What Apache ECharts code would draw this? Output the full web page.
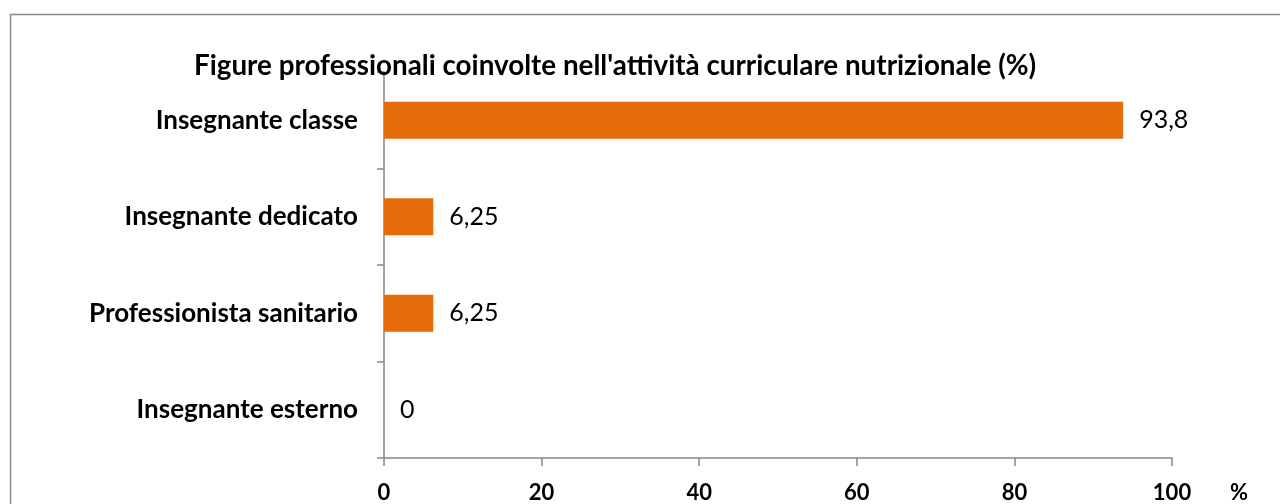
<!DOCTYPE html>
<html><head><meta charset="utf-8">
<script src="https://cdn.jsdelivr.net/npm/echarts@6/dist/echarts.min.js"></script>
<style>html,body{margin:0;padding:0;background:#fff}#c{width:1280px;height:504px}</style>
</head><body><div id="c"></div>
<script>
const titleText = "Figure professionali coinvolte nell'attività curriculare nutrizionale (%)";
const categories = ["Insegnante classe", "Insegnante dedicato", "Professionista sanitario", "Insegnante esterno"];
const values = [93.8, 6.25, 6.25, 0];
const xTicks = [0, 20, 40, 60, 80, 100];
const xUnit = "%";

const chart = echarts.init(document.getElementById('c'), null, {renderer: 'canvas'});
const FONT = 'Lato';
chart.setOption({
  animation: false,
  backgroundColor: '#fff',
  graphic: [{
    type: 'rect', left: 8, top: 12,
    shape: {width: 1300, height: 520},
    style: {fill: 'none', stroke: '#888', lineWidth: 1.5}, silent: true
  }],
  title: {
    text: titleText, left: 189, top: 47,
    textStyle: {fontFamily: FONT, fontWeight: 'bold', fontSize: 27.8, color: '#000'}
  },
  grid: {left: 384, top: 72, width: 788, height: 386, containLabel: false},
  xAxis: {
    type: 'value', min: xTicks[0], max: xTicks[xTicks.length - 1], interval: 20,
    name: xUnit, nameLocation: 'end', nameGap: 58,
    nameTextStyle: {fontFamily: FONT, fontWeight: 'bold', fontSize: 22, color: '#000', verticalAlign: 'top', padding: [24, 0, 0, 0]},
    axisLine: {show: true, lineStyle: {color: '#868686', width: 1.5}},
    axisTick: {show: true, length: 8, lineStyle: {color: '#868686', width: 1.5}},
    axisLabel: {margin: 24, fontFamily: FONT, fontWeight: 'bold', fontSize: 22, color: '#000'},
    splitLine: {show: false}
  },
  yAxis: {
    type: 'category', data: categories, inverse: true,
    axisLine: {show: true, lineStyle: {color: '#868686', width: 1.5}},
    axisTick: {show: true, length: 7, lineStyle: {color: '#868686', width: 1.5}},
    axisLabel: {margin: 26, fontFamily: FONT, fontWeight: 'bold', fontSize: 26, color: '#000'}
  },
  series: [{
    type: 'bar', data: values, barWidth: 37,
    itemStyle: {color: '#E46C0A'},
    label: {
      show: true, position: 'right', distance: 16,
      fontFamily: FONT, fontSize: 25, color: '#000',
      formatter: p => String(p.value).replace('.', ',')
    }
  }]
});
</script></body></html>
